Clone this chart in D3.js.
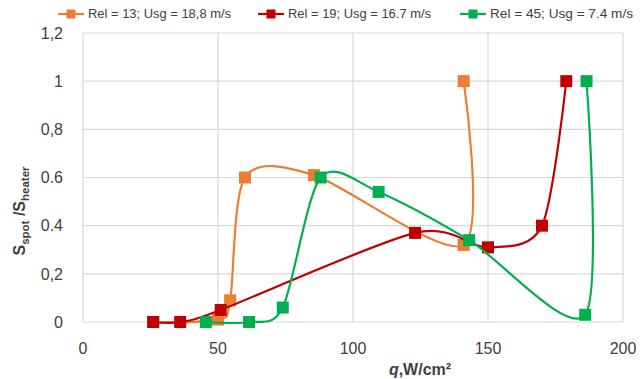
<!DOCTYPE html>
<html>
<head>
<meta charset="utf-8">
<script src="https://cdn.jsdelivr.net/npm/d3@7"></script>
<style>
  body { margin: 0; background: #fff; }
  svg { font-family: "Liberation Sans", Arial, sans-serif; }
</style>
</head>
<body>
<div id="chart"></div>
<script>
// series: [q, Sspot/Sheater]
const seriesNames = ["Rel = 13; Usg = 18,8 m/s", "Rel = 19; Usg = 16.7 m/s", "Rel = 45; Usg = 7.4 m/s"];
const seriesColors = ["#ED7D31", "#C00000", "#00B050"];
const rel13 = [[26, 0], [50, 0.01], [54.5, 0.09], [60, 0.6], [85.5, 0.61], [141, 0.32], [141, 1]];
const rel19 = [[26, 0], [36, 0], [51, 0.05], [123, 0.37], [150, 0.31], [170, 0.4], [179, 1]];
const rel45 = [[45.5, 0], [61.5, 0], [74, 0.06], [88, 0.6], [109.5, 0.54], [143, 0.34], [186, 0.03], [186.5, 1]];
const xTicks = [0, 50, 100, 150, 200];
const yTicks = [0, 0.2, 0.4, 0.6, 0.8, 1, 1.2];
const yTickLabels = ["0", "0,2", "0.4", "0.6", "0,8", "1", "1,2"];

const W = 641, H = 379;
const svg = d3.select("#chart").append("svg").attr("width", W).attr("height", H);

const x = d3.scaleLinear().domain([0, 200]).range([83, 623]);
const y = d3.scaleLinear().domain([0, 1.2]).range([322, 33]);

// grid
svg.append("g").selectAll("line").data(yTicks).enter().append("line")
    .attr("x1", x(0)).attr("x2", x(200))
    .attr("y1", d => y(d)).attr("y2", d => y(d))
    .attr("stroke", "#d9d9d9").attr("stroke-width", 1.2);
svg.append("g").selectAll("line").data(xTicks).enter().append("line")
    .attr("x1", d => x(d)).attr("x2", d => x(d))
    .attr("y1", y(0)).attr("y2", y(1.2))
    .attr("stroke", "#d9d9d9").attr("stroke-width", 1.2);

// tick labels
svg.append("g").selectAll("text").data(yTicks).enter().append("text")
    .attr("x", 63).attr("y", d => y(d)).attr("dy", "0.36em")
    .attr("text-anchor", "end").attr("font-size", 16).attr("fill", "#404040")
    .text((d, i) => yTickLabels[i]);
svg.append("g").selectAll("text").data(xTicks).enter().append("text")
    .attr("x", d => x(d)).attr("y", 354)
    .attr("text-anchor", "middle").attr("font-size", 16).attr("fill", "#404040")
    .text(d => d);

// axis titles
const xt = svg.append("text").attr("x", 420).attr("y", 375).attr("text-anchor", "middle")
    .attr("font-size", 16).attr("font-weight", "bold").attr("fill", "#404040");
xt.append("tspan").attr("font-style", "italic").text("q");
xt.append("tspan").text(",W/cm²");

const yt = svg.append("text").attr("transform", "translate(25,211) rotate(-90)")
    .attr("text-anchor", "middle").attr("font-size", 16).attr("font-weight", "bold").attr("fill", "#404040");
yt.append("tspan").text("S");
yt.append("tspan").attr("font-size", 11.5).attr("dy", 4).text("spot");
yt.append("tspan").attr("dy", -4).text(" /S");
yt.append("tspan").attr("font-size", 11.5).attr("dy", 4).text("heater");

// lines + markers (Excel-like smoothing)
const line = d3.line().x(d => x(d[0])).y(d => y(d[1])).curve(d3.curveCardinal.tension(0.15));
const allSeries = [rel13, rel19, rel45];
allSeries.forEach((data, i) => {
    const g = svg.append("g");
    g.append("path").datum(data).attr("fill", "none")
        .attr("stroke", seriesColors[i]).attr("stroke-width", 2.2).attr("d", line);
    g.selectAll("rect").data(data).enter().append("rect")
        .attr("x", d => x(d[0]) - 6).attr("y", d => y(d[1]) - 6)
        .attr("width", 12).attr("height", 12)
        .attr("fill", seriesColors[i]);
});

// legend
const legendX = [58, 258, 460];
seriesNames.forEach((name, i) => {
    const g = svg.append("g").attr("transform", `translate(${legendX[i]},14)`);
    g.append("line").attr("x1", 0).attr("x2", 26).attr("stroke", seriesColors[i]).attr("stroke-width", 2.2);
    g.append("rect").attr("x", 8.5).attr("y", -4.5).attr("width", 9).attr("height", 9).attr("fill", seriesColors[i]);
    g.append("text").attr("x", 30).attr("dy", "0.35em").attr("font-size", 12.5)
        .attr("fill", "#404040").attr("textLength", 143).attr("lengthAdjust", "spacingAndGlyphs")
        .text(name);
});
</script>
</body>
</html>
